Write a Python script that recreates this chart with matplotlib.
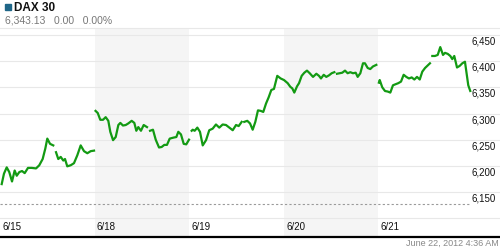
import matplotlib.pyplot as plt
import matplotlib.transforms as mtransforms
import numpy as np

plt.rcParams["font.family"] = ["Liberation Sans", "DejaVu Sans"]

# Intraday DAX 30 quotes, time in trading days from 6/15 open; NaN marks a break.
times = [
    0.018, 0.042, 0.071, 0.098, 0.127, 0.155, 0.177, 0.204, 0.233, 0.261, 0.296, 0.335,
    0.381, 0.415, 0.451, 0.479, 0.500, 0.529, 0.563, np.nan,
    0.592, 0.616, 0.642, 0.669, 0.687, 0.711, 0.747, 0.782, 0.817, 0.853, 0.888, 0.923,
    0.959, 0.994, np.nan,
    1.010, 1.033, 1.060, 1.089, 1.117, 1.145, 1.166, 1.195, 1.223, 1.251, 1.272, 1.300,
    1.329, 1.356, 1.392, 1.420, 1.441, 1.462, 1.490, 1.519, 1.554, np.nan,
    1.586, 1.617, 1.646, 1.681, 1.709, 1.737, 1.765, 1.794, 1.836, 1.864, 1.885, 1.913,
    1.942, 1.969, 1.998, np.nan,
    2.026, 2.037, 2.058, 2.086, 2.114, 2.143, 2.178, 2.212, 2.248, 2.283, 2.318, 2.354,
    2.389, 2.424, 2.460, 2.495, 2.523, 2.555, np.nan,
    2.582, 2.614, 2.643, 2.671, 2.699, 2.727, 2.756, 2.783, 2.812, 2.840, 2.868, 2.896,
    2.931, 2.967, 3.002, 3.041, 3.069, 3.090, 3.111, 3.140, 3.161, 3.189, 3.217, 3.245,
    3.274, 3.309, 3.344, 3.372, 3.393, 3.422, 3.449, 3.478, 3.506, 3.534, np.nan,
    3.562, 3.591, 3.618, 3.647, 3.675, 3.703, 3.731, 3.760, 3.781, 3.809, 3.837, 3.858,
    3.887, 3.914, 3.943, 3.978, np.nan,
    4.005, 4.014, 4.041, 4.070, 4.098, 4.126, 4.154, 4.183, 4.210, 4.239, 4.267, 4.295,
    4.323, 4.352, 4.380, 4.408, 4.437, 4.464, 4.493, 4.528, 4.545, np.nan,
    4.570, 4.598, 4.627, 4.654, 4.683, 4.704, 4.733, 4.760, 4.781, 4.802, 4.831, 4.859,
    4.887, 4.915, 4.937, 4.950, 4.971,
]
prices = [
    6165, 6185, 6197, 6188, 6170, 6191, 6181, 6188, 6190, 6186, 6196, 6196,
    6195, 6201, 6213, 6233, 6252, 6242, 6239, np.nan,
    6226, 6213, 6217, 6210, 6213, 6199, 6201, 6205, 6220, 6239, 6228, 6224,
    6228, 6229, np.nan,
    6305, 6301, 6288, 6288, 6293, 6286, 6265, 6249, 6255, 6278, 6282, 6277,
    6278, 6281, 6286, 6282, 6267, 6274, 6267, 6278, 6274, np.nan,
    6267, 6269, 6250, 6235, 6236, 6240, 6240, 6252, 6254, 6255, 6265, 6260,
    6242, 6241, 6250, np.nan,
    6267, 6269, 6267, 6273, 6265, 6239, 6249, 6268, 6271, 6279, 6273, 6279,
    6278, 6273, 6268, 6278, 6276, 6284, np.nan,
    6284, 6286, 6281, 6269, 6284, 6306, 6305, 6303, 6319, 6331, 6345, 6347,
    6372, 6367, 6364, 6358, 6351, 6348, 6340, 6352, 6358, 6372, 6378, 6382,
    6377, 6370, 6376, 6372, 6367, 6374, 6370, 6373, 6377, 6379, np.nan,
    6376, 6377, 6378, 6382, 6377, 6379, 6377, 6378, 6370, 6377, 6396, 6396,
    6387, 6385, 6390, 6393, np.nan,
    6359, 6364, 6350, 6343, 6342, 6340, 6354, 6356, 6358, 6361, 6374, 6370,
    6367, 6369, 6365, 6370, 6365, 6380, 6387, 6393, 6396, np.nan,
    6410, 6410, 6412, 6427, 6412, 6416, 6414, 6410, 6404, 6410, 6388, 6391,
    6396, 6399, 6370, 6354, 6343.13,
]

day_labels = ["6/15", "6/18", "6/19", "6/20", "6/21"]
shaded_days = [1, 3]
grid_values = [6100, 6150, 6200, 6250, 6300, 6350, 6400, 6450]
label_values = [6150, 6200, 6250, 6300, 6350, 6400, 6450]
ref_close = 6126

last_price = "6,343.13"
change = "0.00"
change_pct = "0.00%"
stamp = "June 22, 2012 4:36 AM"

GREEN = "#139a13"
GRID = "#e8e8e8"
BAND = "#f5f5f5"

fig = plt.figure(figsize=(5, 2.5), dpi=100)
ax = fig.add_axes([0, 13.5 / 250, 1, 208.5 / 250])
ax.set_xlim(0, 500 / 94.6)
ax.set_ylim(6064.8, 6463.5)

for start in shaded_days:
    ax.axvspan(start, start + 1, color=BAND, lw=0, zorder=0)
for v in grid_values:
    ax.axhline(v, color=GRID, lw=0.8, zorder=1)

last_t = times[-1]
ax.hlines(ref_close, 0, last_t, colors="#9a9a9a", linestyles=(0, (2, 2)), lw=0.8, zorder=2)
ax.plot(times, prices, color=GREEN, lw=1.6, solid_joinstyle="round", zorder=3)

# price labels sit just under their gridline, right of the data
lab_tr = mtransforms.offset_copy(ax.transData, fig=fig, x=0, y=-1.5, units="dots")
for v in label_values:
    ax.text(last_t + 0.01, v, f"{v:,}", transform=lab_tr, ha="left", va="top",
            fontsize=7, color="#111111")

date_tr = mtransforms.blended_transform_factory(ax.transData, ax.transAxes)
for i, lab in enumerate(day_labels):
    ax.text(i + 0.025, 0.045, lab, transform=date_tr, ha="left", va="center",
            fontsize=7, color="#111111")

for side in ("left", "right"):
    ax.spines[side].set_visible(False)
ax.spines["top"].set_color(GRID)
ax.spines["top"].set_linewidth(0.8)
ax.spines["bottom"].set_color("black")
ax.spines["bottom"].set_linewidth(1.6)
ax.set_xticks([])
ax.set_yticks([])

# header
fig.patches.append(plt.Rectangle((5 / 500, 1 - 10 / 250), 6 / 500, 6 / 250,
                                 transform=fig.transFigure, color="#1f6688"))
fig.text(13.5 / 500, 1 - 8 / 250, "DAX 30", fontsize=8.5, fontweight="bold",
         ha="left", va="center", color="#111111")
fig.text(5 / 500, 1 - 20.5 / 250, f"{last_price}   {change}   {change_pct}",
         fontsize=7.5, ha="left", va="center", color="#777777")
fig.text(499 / 500, 1 - 243.5 / 250, stamp, fontsize=6.5, ha="right", va="center",
         color="#888888")

fig.savefig("out.png", dpi=100)
plt.close(fig)
